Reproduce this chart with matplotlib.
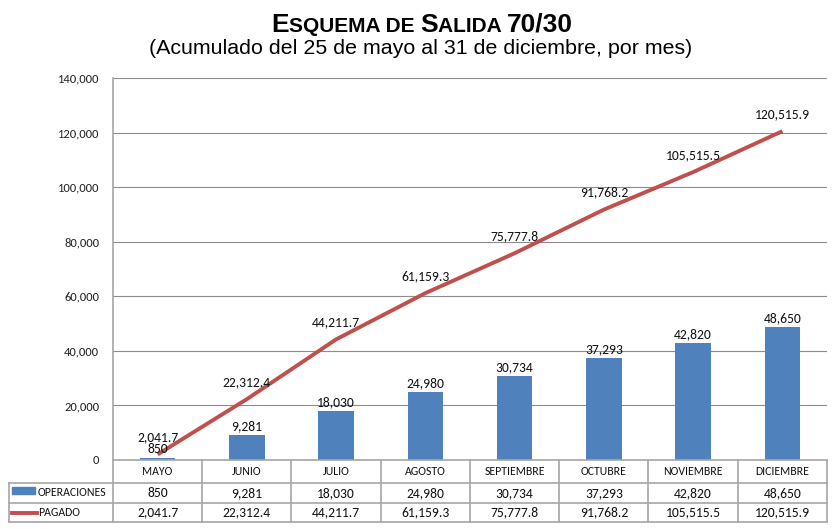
import matplotlib
matplotlib.use("Agg")
import matplotlib.pyplot as plt
from matplotlib import font_manager
from matplotlib.patches import Rectangle
from matplotlib.lines import Line2D
from matplotlib.transforms import blended_transform_factory

months = ["MAYO", "JUNIO", "JULIO", "AGOSTO", "SEPTIEMBRE", "OCTUBRE", "NOVIEMBRE", "DICIEMBRE"]
operaciones = [850, 9281, 18030, 24980, 30734, 37293, 42820, 48650]
pagado = [2041.7, 22312.4, 44211.7, 61159.3, 75777.8, 91768.2, 105515.5, 120515.9]
yticks = [0, 20000, 40000, 60000, 80000, 100000, 120000, 140000]

names = {f.name for f in font_manager.fontManager.ttflist}
body_font = "Carlito" if "Carlito" in names else "Lato"
title_font = "Liberation Sans"

BLUE = "#4F81BD"
RED = "#C0504D"
GRID = "#8C8C8C"
TBL = "#A6A6A6"
TXT = "#111111"

W, H = 837, 529
fig = plt.figure(figsize=(W / 100, H / 100), dpi=100)
L, R, T, B = 113, 827, 78, 460
ax = fig.add_axes([L / W, 1 - B / H, (R - L) / W, (B - T) / H])

x = list(range(len(months)))
ax.bar(x, operaciones, width=0.4, color=BLUE, zorder=2)
ax.plot(x, pagado, color=RED, lw=2.8, zorder=3, solid_capstyle="butt")

ax.set_xlim(-0.5, len(months) - 0.5)
ax.set_ylim(0, 140000)
ax.set_yticks(yticks)
ax.set_yticklabels([f"{v:,}" for v in yticks], fontsize=9, family=body_font, color="#222222")
ax.set_xticks([])
ax.grid(axis="y", color=GRID, lw=0.8, zorder=0)
ax.tick_params(axis="y", length=0, pad=10)
for s in ["top", "right", "bottom"]:
    ax.spines[s].set_visible(False)
ax.spines["left"].set_color(TBL)
ax.spines["left"].set_linewidth(1.2)

for xi, v in zip(x, operaciones):
    ax.annotate(f"{v:,}", (xi, v), xytext=(0, 2), textcoords="offset points",
                ha="center", va="bottom", fontsize=9.8, family=body_font, color=TXT)
for xi, v in zip(x, pagado):
    ax.annotate(f"{v:,.1f}", (xi, v), xytext=(0, 8), textcoords="offset points",
                ha="center", va="bottom", fontsize=9.8, family=body_font, color=TXT)

# table below the axes
def fy(py):
    return (B - py) / (B - T)

tr = blended_transform_factory(ax.transData, ax.transAxes)
rows = [460, 483, 503, 522]
left_x = -0.5 - (L - 9) / ((R - L) / len(months))
n = len(months)
ax.add_line(Line2D([-0.5, n - 0.5], [fy(rows[0])] * 2, transform=tr, color=TBL, lw=1.2, clip_on=False))
for py in rows[1:]:
    ax.add_line(Line2D([left_x, n - 0.5], [fy(py)] * 2, transform=tr, color=TBL, lw=1.2, clip_on=False))
for i in range(n + 1):
    ax.add_line(Line2D([i - 0.5] * 2, [fy(rows[0]), fy(rows[-1])], transform=tr, color=TBL, lw=1.2, clip_on=False))
ax.add_line(Line2D([left_x] * 2, [fy(rows[1]), fy(rows[-1])], transform=tr, color=TBL, lw=1.2, clip_on=False))

def cy(a, b):
    return fy((a + b) / 2)

for i, m in enumerate(months):
    ax.text(i, cy(rows[0], rows[1]), m, transform=tr, ha="center", va="center",
            fontsize=8.5, family=body_font, color=TXT)
    ax.text(i, cy(rows[1], rows[2]), f"{operaciones[i]:,}", transform=tr, ha="center", va="center",
            fontsize=9.8, family=body_font, color=TXT)
    ax.text(i, cy(rows[2], rows[3]), f"{pagado[i]:,.1f}", transform=tr, ha="center", va="center",
            fontsize=9.8, family=body_font, color=TXT)

# legend keys in the table
fig.patches.append(Rectangle((12 / W, 1 - 494 / H), 23 / W, 7 / H, transform=fig.transFigure,
                             color=BLUE, figure=fig))
fig.lines.append(Line2D([12 / W, 37 / W], [1 - 513 / H] * 2, transform=fig.transFigure,
                        color=RED, lw=2.8, figure=fig))
fig.text(38 / W, 1 - 492.5 / H, "OPERACIONES", ha="left", va="center", fontsize=8.5,
         family=body_font, color=TXT)
fig.text(38 / W, 1 - 512.5 / H, "PAGADO", ha="left", va="center", fontsize=8.5,
         family=body_font, color=TXT)

# title with small caps emulation
pieces = [("E", 19), ("SQUEMA DE ", 15), ("S", 19), ("ALIDA ", 15), ("70/30", 19)]
renderer = fig.canvas.get_renderer()
texts = []
total = 0
for s, sz in pieces:
    t = fig.text(0, 1 - 32 / H, s, fontsize=sz, fontweight="bold", family=title_font,
                 ha="left", va="baseline", color="#000000")
    w = t.get_window_extent(renderer).width
    texts.append((t, w))
    total += w
cur = 422 - total / 2
for t, w in texts:
    t.set_x(cur / W)
    cur += w

fig.text(421 / W, 1 - 48 / H, "(Acumulado del 25 de mayo al 31 de diciembre, por mes)",
         ha="center", va="center", fontsize=15.4, family=title_font, color="#000000")

fig.savefig("out.png", dpi=100)
